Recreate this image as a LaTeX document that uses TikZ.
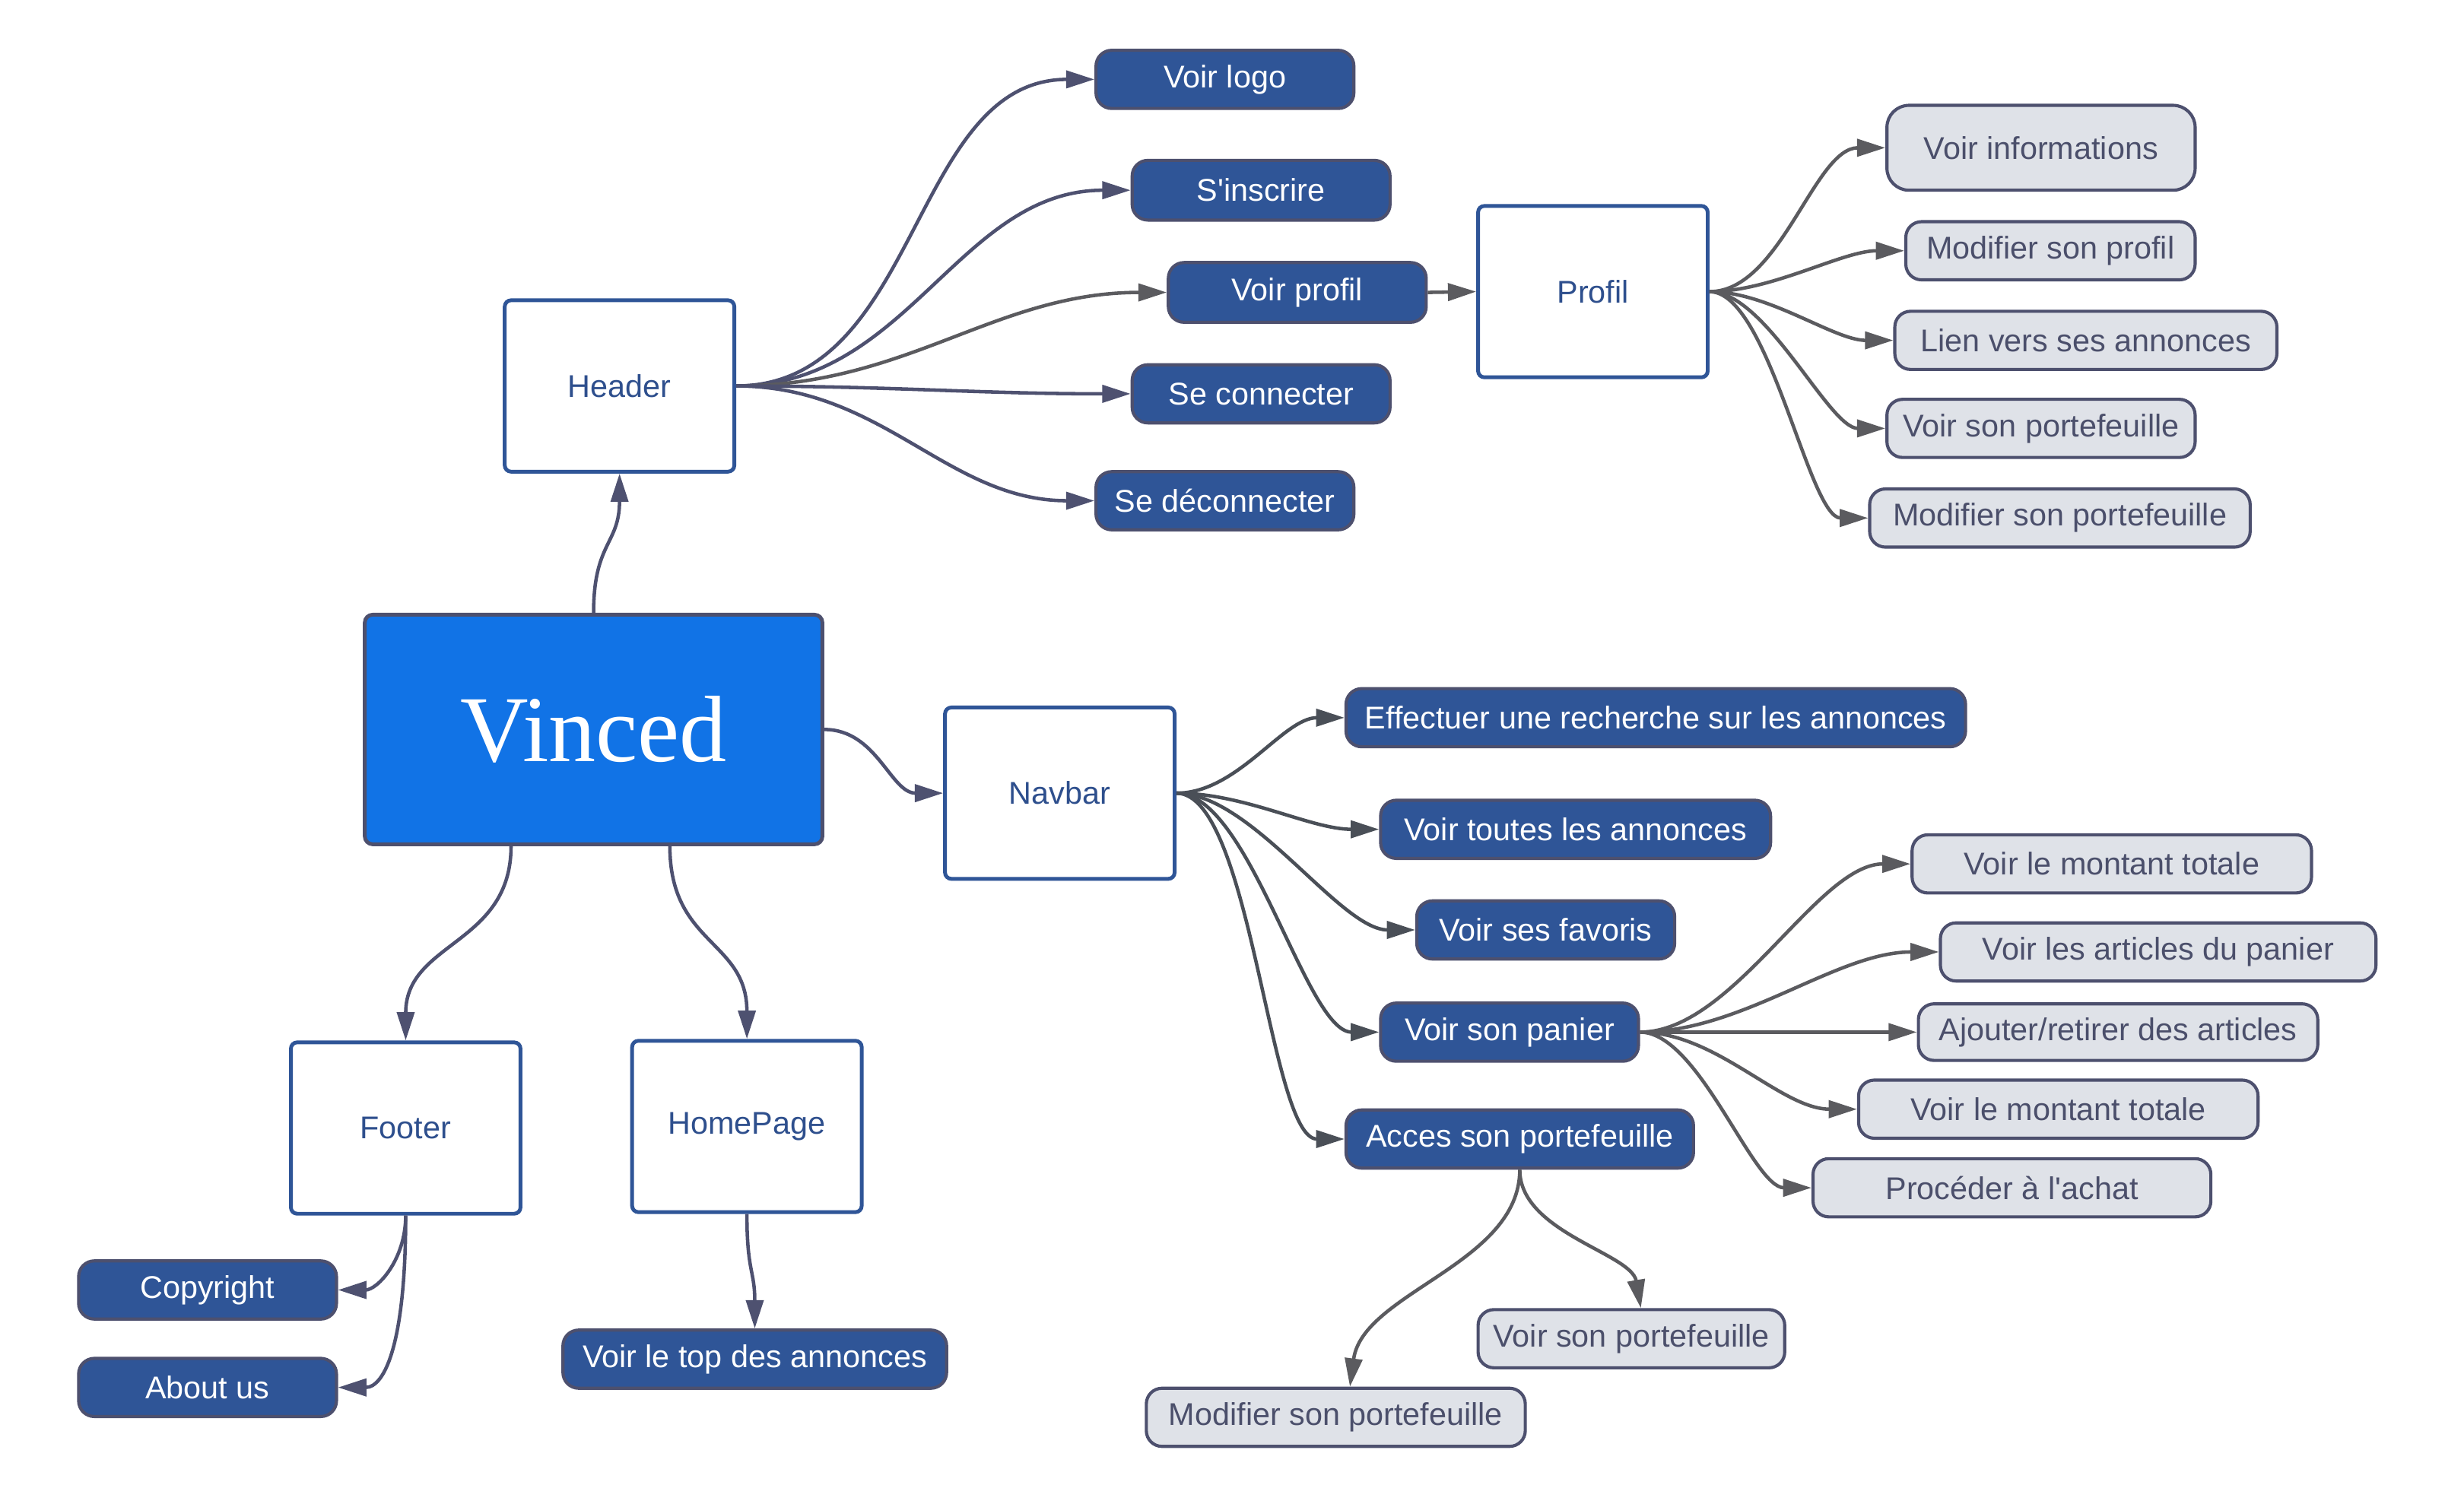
\documentclass[tikz,border=0pt]{standalone}
\usepackage{fontspec}
\setmainfont{Liberation Sans}
\newfontfamily\vfont{Liberation Serif}
\usetikzlibrary{arrows.meta}
\definecolor{pillfill}{HTML}{2F5597}
\definecolor{pillborder}{HTML}{4D506E}
\definecolor{boxblue}{HTML}{2F5597}
\definecolor{boxtext}{HTML}{2E4F8D}
\definecolor{vfill}{HTML}{1173E6}
\definecolor{greyfill}{HTML}{DFE2E8}
\definecolor{greytext}{HTML}{4B4F6B}
\definecolor{edgeA}{HTML}{4E5170}
\definecolor{edgeB}{HTML}{5B5B5F}
\definecolor{edgeC}{HTML}{4A4F57}
\tikzset{
  txt/.style={font=\fontsize{10}{12}\selectfont, inner sep=0pt, align=center},
  whitebox/.style={txt, draw=boxblue, line width=1.2pt, fill=white, text=boxtext,
     rounded corners=2pt, minimum width=73pt, minimum height=54.5pt},
  mainbox/.style={draw=pillborder, line width=1.2pt, fill=vfill, text=white,
     rounded corners=2.5pt, minimum width=145.5pt, minimum height=73pt, inner sep=0pt,
     font=\vfont\fontsize{30}{34}\selectfont},
  pill/.style={txt, draw=pillborder, line width=1pt, fill=pillfill, text=white,
     rounded corners=5pt, minimum height=18.5pt},
  greypill/.style={txt, draw=pillborder, line width=1pt, fill=greyfill, text=greytext,
     rounded corners=5pt, minimum height=18.5pt},
  conn/.style={line width=1.1pt, -{Triangle[length=9pt,width=5.5pt]}},
  ea/.style={conn, draw=edgeA},
  eb/.style={conn, draw=edgeB},
  ec/.style={conn, draw=edgeC},
}
\begin{document}
\begin{tikzpicture}[x=0.5pt,y=-0.5pt]
\useasboundingbox (0,0) rectangle (1567,956.6);

% main boxes
\node[mainbox] (vin) at (377.5,464) {Vinced};
\node[whitebox] (hdr) at (394,245.5) {Header};
\node[whitebox] (nav) at (674,504.5) {Navbar};
\node[whitebox] (ftr) at (258,717.5) {Footer};
\node[whitebox] (home) at (475,716.5) {HomePage};
\node[whitebox] (prof) at (1013,185.5) {Profil};

% header children
\node[pill, minimum width=82pt] (logo) at (779,50.5) {Voir logo};
\node[pill, minimum width=82pt, minimum height=19pt] (insc) at (802,121) {S\textquotesingle inscrire};
\node[pill, minimum width=82pt, minimum height=19pt] (vprof) at (825,186) {Voir profil};
\node[pill, minimum width=82pt] (conn) at (802,250.5) {Se connecter};
\node[pill, minimum width=82pt] (deco) at (779,318.5) {Se déconnecter};

% navbar children
\node[pill, minimum width=197pt] (rech) at (1053,456.5) {Effectuer une recherche sur les annonces};
\node[pill, minimum width=124pt] (toutes) at (1002,527.5) {Voir toutes les annonces};
\node[pill, minimum width=82pt] (fav) at (983,591.5) {Voir ses favoris};
\node[pill, minimum width=82pt] (panier) at (960,656.5) {Voir son panier};
\node[pill, minimum width=110.5pt] (acces) at (966.5,724.5) {Acces son portefeuille};

% footer / homepage children
\node[pill, minimum width=82pt] (copy) at (132,820.5) {Copyright};
\node[pill, minimum width=82pt] (about) at (132,882.5) {About us};
\node[pill, minimum width=122pt] (top) at (480,864.5) {Voir le top des annonces};

% profil children
\node[greypill, minimum width=98pt, minimum height=27pt, rounded corners=7pt] (pinfo) at (1298,94) {Voir informations};
\node[greypill, minimum width=92pt] (pmod) at (1304,159.5) {Modifier son profil};
\node[greypill, minimum width=121.5pt] (plien) at (1326.5,216.5) {Lien vers ses annonces};
\node[greypill, minimum width=98pt] (pvsp) at (1298,272.5) {Voir son portefeuille};
\node[greypill, minimum width=121pt] (pmsp) at (1310,329.5) {Modifier son portefeuille};

% panier children
\node[greypill, minimum width=127pt] (mont1) at (1343,549.5) {Voir le montant totale};
\node[greypill, minimum width=138.5pt] (arts) at (1372.5,605.5) {Voir les articles du panier};
\node[greypill, minimum width=127pt, minimum height=18pt] (ajout) at (1347,656.5) {Ajouter/retirer des articles};
\node[greypill, minimum width=127pt] (mont2) at (1309,705.5) {Voir le montant totale};
\node[greypill, minimum width=126.5pt] (achat) at (1279.5,755.5) {Procéder à l\textquotesingle achat};

% acces children
\node[greypill, minimum width=97.5pt] (avsp) at (1037.5,851.5) {Voir son portefeuille};
\node[greypill, minimum width=120.5pt] (amsp) at (849.5,901.5) {Modifier son portefeuille};

% Vinced connectors
\draw[ea] (vin.north) .. controls +(0,-45) and +(0,45) .. (hdr.south);
\draw[ea] (vin.east) to[out=0,in=180] (nav.west);
\draw[ea] ([xshift=-26.25pt]vin.south) .. controls +(0,63) and +(0,-63) .. (ftr.north);
\draw[ea] ([xshift=24.25pt]vin.south) .. controls +(0,63) and +(0,-63) .. (home.north);

% Header connectors
\draw[ea] (hdr.east) to[out=0,in=180] (logo.west);
\draw[ea] (hdr.east) to[out=0,in=180] (insc.west);
\draw[eb] (hdr.east) to[out=0,in=180] (vprof.west);
\draw[ea] (hdr.east) to[out=0,in=180] (conn.west);
\draw[ea] (hdr.east) to[out=0,in=180] (deco.west);
\draw[eb] (vprof.east) -- (prof.west);

% Profil connectors
\draw[eb] (prof.east) to[out=0,in=180,looseness=0.8] (pinfo.west);
\draw[eb] (prof.east) to[out=0,in=180,looseness=0.8] (pmod.west);
\draw[eb] (prof.east) to[out=0,in=180,looseness=0.8] (plien.west);
\draw[eb] (prof.east) to[out=0,in=180,looseness=0.65] (pvsp.west);
\draw[eb] (prof.east) to[out=0,in=180,looseness=0.55] (pmsp.west);

% Navbar connectors
\draw[ec] (nav.east) to[out=0,in=180,looseness=0.85] (rech.west);
\draw[ec] (nav.east) to[out=0,in=180,looseness=0.85] (toutes.west);
\draw[ec] (nav.east) to[out=0,in=180,looseness=0.7] (fav.west);
\draw[ec] (nav.east) to[out=0,in=180,looseness=0.6] (panier.west);
\draw[ec] (nav.east) to[out=0,in=180,looseness=0.5] (acces.west);

% Panier connectors
\draw[eb] (panier.east) to[out=0,in=180,looseness=0.75] (mont1.west);
\draw[eb] (panier.east) to[out=0,in=180,looseness=0.85] (arts.west);
\draw[eb] (panier.east) -- (ajout.west);
\draw[eb] (panier.east) to[out=0,in=180,looseness=0.85] (mont2.west);
\draw[eb] (panier.east) to[out=0,in=180,looseness=0.65] (achat.west);

% Acces connectors
\draw[eb] (acces.south) .. controls +(0,40) and +(-6,-35) .. ([xshift=3pt]avsp.north);
\draw[eb] (acces.south) .. controls +(0,60) and +(8,-60) .. ([xshift=4.5pt]amsp.north);

% Footer / HomePage connectors
\draw[ea] (ftr.south) .. controls +(0,28) and +(25,0) .. (copy.east);
\draw[ea] (ftr.south) .. controls +(0,80) and +(30,0) .. (about.east);
\draw[ea] (home.south) .. controls +(0,37) and +(0,-37) .. (top.north);
\end{tikzpicture}
\end{document}
